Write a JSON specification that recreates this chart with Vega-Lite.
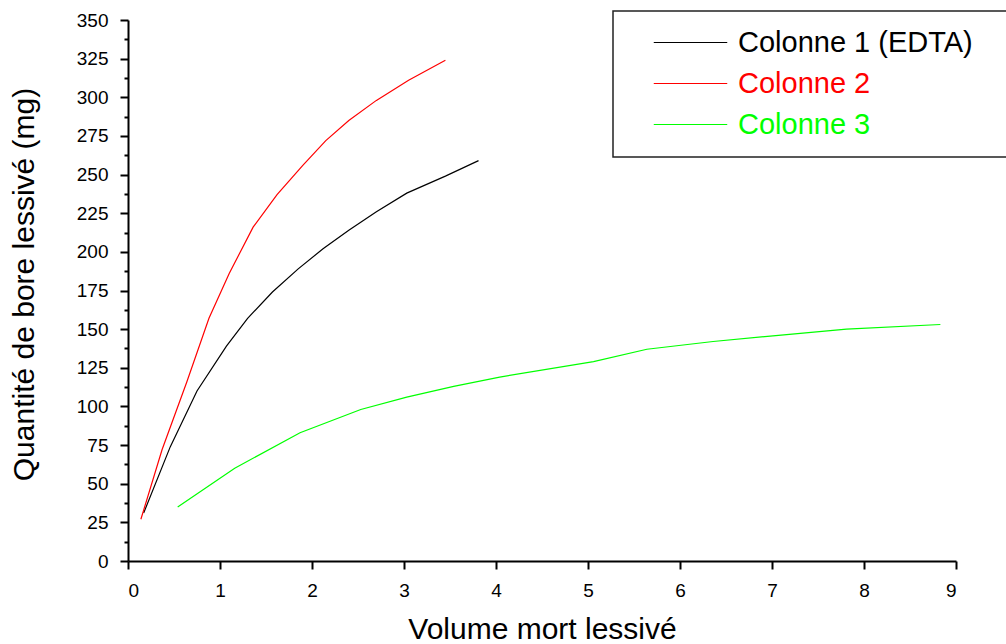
{
  "$schema": "https://vega.github.io/schema/vega-lite/v6.json",
  "width": 828,
  "height": 541,
  "autosize": "none",
  "padding": {"left": 128, "top": 20, "right": 50, "bottom": 83},
  "background": "white",
  "config": {
    "view": {"stroke": null},
    "font": "Liberation Sans",
    "axis": {
      "grid": false,
      "domainColor": "black",
      "domainWidth": 2,
      "tickColor": "black",
      "tickWidth": 2,
      "labelFont": "Liberation Sans",
      "labelFontSize": 19,
      "labelColor": "black",
      "titleFont": "Liberation Sans",
      "titleFontSize": 30,
      "titleFontWeight": "normal",
      "titleColor": "black",
      "labelOverlap": false,
      "labelPadding": 12
    }
  },
  "data": {
    "values": [
      {"serie": "Colonne 1 (EDTA)", "volume": 0.17, "bore": 31},
      {"serie": "Colonne 1 (EDTA)", "volume": 0.46, "bore": 74},
      {"serie": "Colonne 1 (EDTA)", "volume": 0.75, "bore": 110},
      {"serie": "Colonne 1 (EDTA)", "volume": 1.07, "bore": 139},
      {"serie": "Colonne 1 (EDTA)", "volume": 1.3, "bore": 157},
      {"serie": "Colonne 1 (EDTA)", "volume": 1.57, "bore": 174},
      {"serie": "Colonne 1 (EDTA)", "volume": 1.85, "bore": 189},
      {"serie": "Colonne 1 (EDTA)", "volume": 2.12, "bore": 202},
      {"serie": "Colonne 1 (EDTA)", "volume": 2.4, "bore": 214},
      {"serie": "Colonne 1 (EDTA)", "volume": 2.7, "bore": 226},
      {"serie": "Colonne 1 (EDTA)", "volume": 3.03, "bore": 238},
      {"serie": "Colonne 1 (EDTA)", "volume": 3.45, "bore": 249},
      {"serie": "Colonne 1 (EDTA)", "volume": 3.81, "bore": 259},
      {"serie": "Colonne 2", "volume": 0.14, "bore": 27},
      {"serie": "Colonne 2", "volume": 0.37, "bore": 72},
      {"serie": "Colonne 2", "volume": 0.64, "bore": 116},
      {"serie": "Colonne 2", "volume": 0.88, "bore": 157},
      {"serie": "Colonne 2", "volume": 1.1, "bore": 186},
      {"serie": "Colonne 2", "volume": 1.36, "bore": 216},
      {"serie": "Colonne 2", "volume": 1.62, "bore": 237},
      {"serie": "Colonne 2", "volume": 1.9, "bore": 256},
      {"serie": "Colonne 2", "volume": 2.15, "bore": 272},
      {"serie": "Colonne 2", "volume": 2.4, "bore": 285},
      {"serie": "Colonne 2", "volume": 2.7, "bore": 298},
      {"serie": "Colonne 2", "volume": 3.05, "bore": 311},
      {"serie": "Colonne 2", "volume": 3.45, "bore": 324},
      {"serie": "Colonne 3", "volume": 0.54, "bore": 35},
      {"serie": "Colonne 3", "volume": 1.16, "bore": 60},
      {"serie": "Colonne 3", "volume": 1.87, "bore": 83},
      {"serie": "Colonne 3", "volume": 2.53, "bore": 98},
      {"serie": "Colonne 3", "volume": 3.03, "bore": 106},
      {"serie": "Colonne 3", "volume": 3.54, "bore": 113},
      {"serie": "Colonne 3", "volume": 4.04, "bore": 119},
      {"serie": "Colonne 3", "volume": 5.06, "bore": 129},
      {"serie": "Colonne 3", "volume": 5.64, "bore": 137},
      {"serie": "Colonne 3", "volume": 6.36, "bore": 142},
      {"serie": "Colonne 3", "volume": 7.07, "bore": 146},
      {"serie": "Colonne 3", "volume": 7.81, "bore": 150},
      {"serie": "Colonne 3", "volume": 8.83, "bore": 153}
    ]
  },
  "mark": {"type": "line", "strokeWidth": 1.2},
  "encoding": {
    "x": {
      "field": "volume",
      "type": "quantitative",
      "scale": {"domain": [0, 9], "nice": false, "zero": false},
      "axis": {
        "title": "Volume mort lessivé",
        "values": [0, 0.5, 1, 1.5, 2, 2.5, 3, 3.5, 4, 4.5, 5, 5.5, 6, 6.5, 7, 7.5, 8, 8.5, 9],
        "format": "d",
        "labelExpr": "datum.value % 1 === 0 ? datum.label : ''",
        "tickSize": {"condition": {"test": "datum.value % 1 !== 0", "value": 4}, "value": 8},
        "titleY": 77,
        "titleBaseline": "alphabetic"
      }
    },
    "y": {
      "field": "bore",
      "type": "quantitative",
      "scale": {"domain": [0, 350], "nice": false},
      "axis": {
        "title": "Quantité de bore lessivé (mg)",
        "values": [0, 12.5, 25, 37.5, 50, 62.5, 75, 87.5, 100, 112.5, 125, 137.5, 150, 162.5, 175, 187.5, 200, 212.5, 225, 237.5, 250, 262.5, 275, 287.5, 300, 312.5, 325, 337.5, 350],
        "format": "d",
        "labelExpr": "datum.value % 25 === 0 ? datum.label : ''",
        "tickSize": {"condition": {"test": "datum.value % 25 !== 0", "value": 4}, "value": 8},
        "titleX": -95,
        "titleY": 264,
        "titleAngle": -90,
        "titleAlign": "center",
        "titleBaseline": "alphabetic"
      }
    },
    "color": {
      "field": "serie",
      "type": "nominal",
      "scale": {
        "domain": ["Colonne 1 (EDTA)", "Colonne 2", "Colonne 3"],
        "range": ["#000000", "#ff0000", "#00ff00"]
      },
      "legend": {
        "orient": "none",
        "legendX": 485,
        "legendY": -9,
        "title": "\u00a0",
        "titleOrient": "right",
        "titlePadding": 40,
        "titleFontSize": 10,
        "fillColor": "white",
        "strokeColor": "#222222",
        "padding": 17,
        "symbolType": "M-5,0H5",
        "symbolSize": 216,
        "symbolStrokeWidth": 1.2,
        "symbolOffset": 46,
        "labelFont": "Liberation Sans",
        "labelFontSize": 29,
        "labelOffset": 33,
        "labelLimit": 500,
        "rowPadding": 11,
        "encode": {
          "legend": {"update": {"strokeWidth": {"value": 1.5}}},
          "labels": {
            "update": {
              "fill": {"signal": "datum.value === 'Colonne 2' ? '#ff0000' : datum.value === 'Colonne 3' ? '#00ff00' : '#000000'"}
            }
          }
        }
      }
    }
  }
}
